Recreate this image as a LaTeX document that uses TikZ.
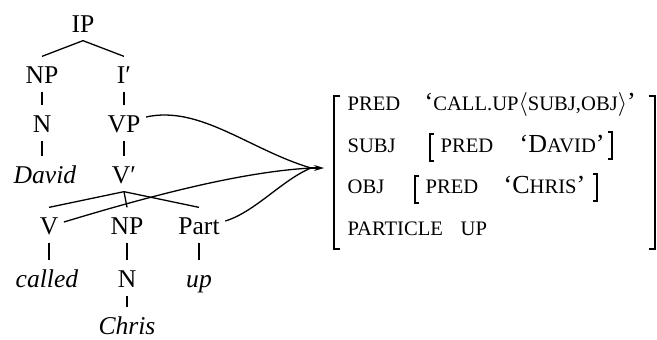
\documentclass[tikz,border=0pt]{standalone}
\usepackage{fontspec}
\setmainfont{Liberation Serif}
\usetikzlibrary{arrows.meta}

\newcommand{\fsc}[1]{{\fontsize{10.3pt}{12pt}\selectfont #1}}
\tikzset{
  cat/.style={inner sep=0pt, inner xsep=2.5pt, text height=13pt, text depth=4pt,
    font=\fontsize{12.8pt}{14pt}\selectfont},
  attr/.style={anchor=base west, inner sep=0pt, font=\fontsize{13pt}{15pt}\selectfont},
}

\begin{document}
\begin{tikzpicture}[x=0.5pt, y=-0.5pt, line width=0.65pt]
    \useasboundingbox (0,0) rectangle (657,339);

    % Draw the c-structure tree
    \node[cat] (ip) at (83,23) {IP};
    \node[cat] (np1) at (42,74) {NP};
    \node[cat] (ibar) at (124,74) {I′};
    \node[cat] (n1) at (42,123) {N};
    \node[cat] (vp) at (124,123) {VP};
    \node[cat] (david) at (45,174) {\textit{David}};
    \node[cat] (vbar) at (124,174) {V′};
    \node[cat] (v) at (49,225) {V};
    \node[cat] (np2) at (127,225) {NP};
    \node[cat] (part) at (199,225) {Part};
    \node[cat] (called) at (47,278) {\textit{called}};
    \node[cat] (n2) at (127,278) {N};
    \node[cat] (up) at (199,278) {\textit{up}};
    \node[cat, text depth=0pt] (chris) at (127,321) {\textit{Chris}};

    \draw (ip.south) -- (np1.north);
    \draw (ip.south) -- (ibar.north);
    \draw (np1.south) -- (n1.north);
    \draw (ibar.south) -- (vp.north);
    \draw (n1.south) -- (n1.south |- david.north);
    \draw (vp.south) -- (vbar.north);
    \foreach \kid in {v,np2,part}
        \draw (vbar.south) -- (\kid.north);
    \draw (v.south) -- (v.south |- called.north);
    \draw (np2.south) -- (n2.north);
    \draw (part.south) -- (up.north);
    \draw (n2.south) -- (chris.north);

    % Mapping to the f-structure
    \coordinate (meet) at (311,168);
    \coordinate (fstr) at (324,168);
    \draw ([yshift=3pt]vp.east) .. controls (200,105) and (250,150) .. (meet);
    \draw ([yshift=1.5pt]v.east) .. controls (150,196) and (240,172) .. (meet);
    \draw ([yshift=2pt]part.east) .. controls (255,212) and (282,180) .. (meet);
    \draw[-{Stealth[length=5pt,width=3pt]}] (meet) -- (fstr);

    % Outer brackets
    \draw[line width=0.9pt] (340,96) -- (334,96) -- (334,249) -- (340,249);
    \draw[line width=0.9pt] (649,96) -- (655,96) -- (655,249) -- (649,249);

    % Attribute rows
    \node[attr] (pred) at (347,110) {\fsc{PRED}};
    \node[attr] (predval) at (424,110) {‘\fsc{CALL.UP}$\langle$\fsc{SUBJ,OBJ}$\rangle$’};
    \node[attr] (subj) at (347,152) {\fsc{SUBJ}};
    \node[attr] (subjpred) at (440,152) {\fsc{PRED}};
    \node[attr] (subjval) at (519,152) {‘D\fsc{AVID}’};
    \node[attr] (obj) at (347,193) {\fsc{OBJ}};
    \node[attr] (objpred) at (425,193) {\fsc{PRED}};
    \node[attr] (objval) at (503,193) {‘C\fsc{HRIS}’};
    \node[attr] (particle) at (347,235) {\fsc{PARTICLE}};
    \node[attr] (partval) at (460,235) {\fsc{UP}};

    % Inner brackets
    \draw (434,134) -- (430,134) -- (430,161) -- (434,161);
    \draw (608,132) -- (612,132) -- (612,159) -- (608,159);
    \draw (419,176) -- (415,176) -- (415,203) -- (419,203);
    \draw (593,174) -- (597,174) -- (597,201) -- (593,201);
\end{tikzpicture}
\end{document}
